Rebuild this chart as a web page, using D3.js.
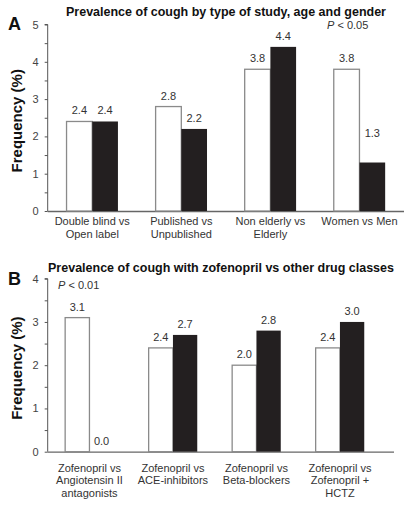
<!DOCTYPE html>
<html><head><meta charset="utf-8">
<script src="https://cdn.jsdelivr.net/npm/d3@7"></script>
<style>body{margin:0;background:#fff}svg{display:block}text{font-family:"Liberation Sans",Arial,sans-serif}</style>
</head><body><svg id="c" width="412" height="509"></svg>
<script>
// Panel A data
const catsA = [["Double blind vs","Open label"],["Published vs","Unpublished"],["Non elderly vs","Elderly"],["Women vs Men"]];
const whiteA = [2.4, 2.8, 3.8, 3.8];
const blackA = [2.4, 2.2, 4.4, 1.3];
const ticksA = [0,1,2,3,4,5];
const titleA = "Prevalence of cough by type of study, age and gender";
const pA = "0.05";
// Panel B data
const catsB = [["Zofenopril vs","Angiotensin II","antagonists"],["Zofenopril vs","ACE-inhibitors"],["Zofenopril vs","Beta-blockers"],["Zofenopril vs","Zofenopril +","HCTZ"]];
const whiteB = [3.1, 2.4, 2.0, 2.4];
const blackB = [0.0, 2.7, 2.8, 3.0];
const ticksB = [0,1,2,3,4];
const titleB = "Prevalence of cough with zofenopril vs other drug classes";
const pB = "0.01";

const svg = d3.select("#c");
const axX = 47.7;
const txt = "#333";

function panel(o){
  const g = svg.append("g");
  const y = d3.scaleLinear().domain([0, o.ymax]).range([o.y0, o.y1]);
  const x = d3.scaleBand().domain(d3.range(o.cats.length)).range([axX, o.xEnd]).padding(0);
  const bw = o.bw;
  const minor = d3.range(0, o.ymax + 0.001, 0.5);
  const yAxis = d3.axisLeft(y).tickValues(minor).tickSize(3).tickPadding(6)
    .tickFormat(d => Number.isInteger(d) && o.ticks.includes(d) ? d : "");
  const ga = g.append("g").attr("transform", `translate(${axX},0)`).call(yAxis);
  ga.select(".domain").attr("stroke", "#555").attr("d", `M-3,${o.y1}H0V${o.y0}`);
  ga.selectAll(".tick line").attr("stroke", "#555");
  ga.selectAll(".tick text").attr("fill", "#444").attr("font-size", 11).attr("font-family", '"Liberation Sans",Arial,sans-serif');
  g.append("line").attr("x1", axX).attr("x2", o.axisEnd).attr("y1", o.y0 + 0.5).attr("y2", o.y0 + 0.5).attr("stroke", "#666").attr("stroke-width", 1.3);
  o.cats.forEach((c, i) => {
    const cx = x(i) + x.bandwidth() / 2;
    g.append("rect").attr("x", cx - bw).attr("y", y(o.white[i])).attr("width", bw).attr("height", y(0) - y(o.white[i]))
      .attr("fill", "#fff").attr("stroke", "#8a8a8a").attr("stroke-width", 1.3);
    if (o.black[i] > 0)
      g.append("rect").attr("x", cx).attr("y", y(o.black[i])).attr("width", bw).attr("height", y(0) - y(o.black[i]))
        .attr("fill", "#231f20");
    g.append("text").attr("x", cx - bw / 2).attr("y", y(o.white[i]) - 7).attr("text-anchor", "middle")
      .attr("font-size", 11).attr("fill", txt).text(o.white[i].toFixed(1));
    const lift = (o.liftIdx === i) ? 19 : 0;
    g.append("text").attr("x", cx + bw / 2).attr("y", y(o.black[i]) - 7 - lift).attr("text-anchor", "middle")
      .attr("font-size", 11).attr("fill", txt).text(o.black[i].toFixed(1));
    c.forEach((line, k) => {
      g.append("text").attr("x", cx).attr("y", o.y0 + o.lg + k * o.lh).attr("text-anchor", "middle")
        .attr("font-size", 11).attr("fill", txt).text(line);
    });
  });
  g.append("text").attr("x", o.titleX).attr("y", o.titleY).attr("text-anchor", "middle")
    .attr("font-size", 12.5).attr("font-weight", "bold").attr("fill", "#111").text(o.title);
  g.append("text").attr("x", 8).attr("y", o.letterY).attr("font-size", 18).attr("font-weight", "bold").attr("fill", "#111").text(o.letter);
  g.append("text").attr("transform", `translate(22,${(o.y0 + o.y1) / 2 + 3}) rotate(-90)`).attr("text-anchor", "middle")
    .attr("font-size", 15).attr("font-weight", "bold").attr("fill", "#111").text("Frequency (%)");
  const pt = g.append("text").attr("x", o.pX).attr("y", o.pY).attr("font-size", 11).attr("fill", txt);
  pt.append("tspan").attr("font-style", "italic").text("P");
  pt.append("tspan").text(" < " + o.p);
}

panel({cats: catsA, white: whiteA, black: blackA, ticks: ticksA, ymax: 5, y0: 211, y1: 24.5,
  xEnd: 404, axisEnd: 404, bw: 25.7, lg: 14, lh: 12.5, title: titleA, titleX: 226, titleY: 16, letter: "A", letterY: 30,
  p: pA, pX: 327, pY: 29, liftIdx: 3});
panel({cats: catsB, white: whiteB, black: blackB, ticks: ticksB, ymax: 4, y0: 451.7, y1: 278.7,
  xEnd: 381.7, axisEnd: 394, bw: 24.3, lg: 20, lh: 12.5, title: titleB, titleX: 221, titleY: 272, letter: "B", letterY: 285,
  p: pB, pX: 58, pY: 289, liftIdx: -1});
</script></body></html>
